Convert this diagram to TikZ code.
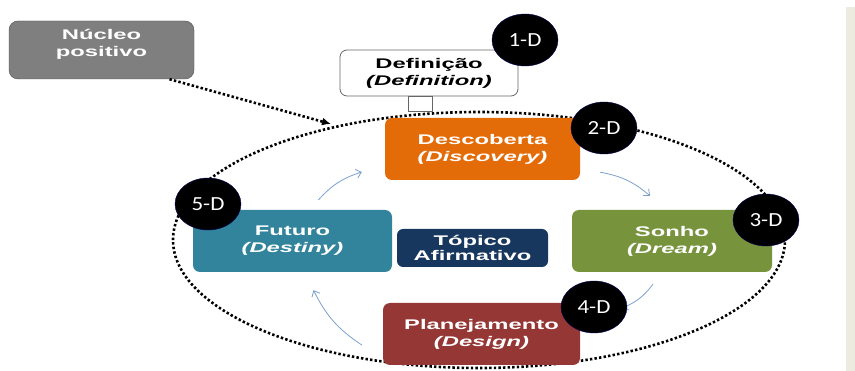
\documentclass[tikz,border=0pt]{standalone}
\usepackage{fontspec}
\setmainfont{Liberation Sans}
\newfontfamily\boxfont[FakeStretch=1.7]{Liberation Sans}
\newfontfamily\numfont[FakeStretch=1.15]{Carlito}
\usetikzlibrary{shapes.geometric,arrows.meta,positioning}
\definecolor{orangeD}{HTML}{E36C09}
\definecolor{greenD}{HTML}{77933C}
\definecolor{redD}{HTML}{953735}
\definecolor{tealD}{HTML}{31849B}
\definecolor{navyD}{HTML}{17375E}
\definecolor{grayD}{HTML}{7F7F7F}
\definecolor{arrowblue}{HTML}{7BA0CD}
\definecolor{stripbeige}{HTML}{EDEAE0}
\tikzset{
    box/.style={rounded corners=7pt, text=white, align=center,
        font=\boxfont\bfseries\fontsize{14}{17}\selectfont, minimum height=62pt},
    dcircle/.style={ellipse, fill=black, draw=blue!35!black, text=white,
        minimum width=66pt, minimum height=52pt, inner sep=0pt,
        font=\numfont\fontsize{20}{24}\selectfont},
    flow/.style={draw=arrowblue, line width=0.8pt, -{Straight Barb[length=5pt,width=9pt]}},
    dots/.style={line width=2.6pt, dash pattern=on 2.4pt off 2.2pt}
}
\begin{document}
\begin{tikzpicture}[x=1pt, y=-1pt]
        \useasboundingbox (0,0) rectangle (855,371);
        \fill[stripbeige] (846,7) rectangle (855,371);
        % dotted ring
        \draw[dots] (479,240) ellipse [x radius=306pt, y radius=128pt];
        \coordinate (rim) at (331,124);
        % outer boxes
        \node[box, fill=grayD, draw=black!70, rounded corners=9pt, minimum width=185pt, minimum height=58pt] (nucleo) at (101.5,50) {};
        \node[box, minimum height=0pt, below=6pt of nucleo.north, inner sep=2pt] (nucleotext) {N\'ucleo\\positivo};
        \node[box, fill=white, draw=black!60, line width=0.8pt, text=black, minimum width=178pt, minimum height=46pt] (definicao) at (429,73) {Defini\c{c}\~ao\\\textit{(Definition)}};
        \draw[black!60, line width=0.8pt, fill=white] ([xshift=-21pt]definicao.south) rectangle ++(24,15);
        \draw[dots, -{Latex[length=9pt,width=8pt]}] ([xshift=68pt]nucleo.south) -- (rim);
        % the four D boxes
        \node[box, fill=orangeD, minimum width=195pt] (descoberta) at (482.5,149) {Descoberta\\\textit{(Discovery)}};
        \node[box, fill=greenD, minimum width=200pt] (sonho) at (672,241) {Sonho\\\textit{(Dream)}};
        \node[box, fill=redD, minimum width=197pt] (planejamento) at (481.5,334) {Planejamento\\\textit{(Design)}};
        \node[box, fill=tealD, minimum width=199pt] (futuro) at (292.5,241) {Futuro\\\textit{(Destiny)}};
        \node[box, fill=navyD, rounded corners=6pt, minimum width=151pt, minimum height=38pt,
            font=\boxfont\bfseries\fontsize{14}{15.5}\selectfont] (topico) at (472.5,248) {T\'opico\\Afirmativo};
        % cycle arrows
        \draw[flow] ([xshift=26pt, yshift=10pt]futuro.north) to[bend left=15] ([xshift=-23pt, yshift=-23pt]descoberta.west);
        \draw[flow] ([xshift=20pt, yshift=8pt]descoberta.south east) to[bend left=15] ([xshift=-22pt, yshift=14pt]sonho.north);
        \draw[flow] ([xshift=-19pt, yshift=-12pt]sonho.south) to[bend left=15] ([xshift=42pt, yshift=26pt]planejamento.east);
        \draw[flow] ([xshift=-21pt, yshift=-11pt]planejamento.west) to[bend left=15] ([xshift=21pt, yshift=-18pt]futuro.south);
        % D markers
        \foreach \n/\px/\py in {1/525/40, 2/604/128, 3/766/220, 4/594/307, 5/208/204} {
            \node[dcircle] (d\n) at (\px,\py) {\n-D};
        }
    \end{tikzpicture}
\end{document}
